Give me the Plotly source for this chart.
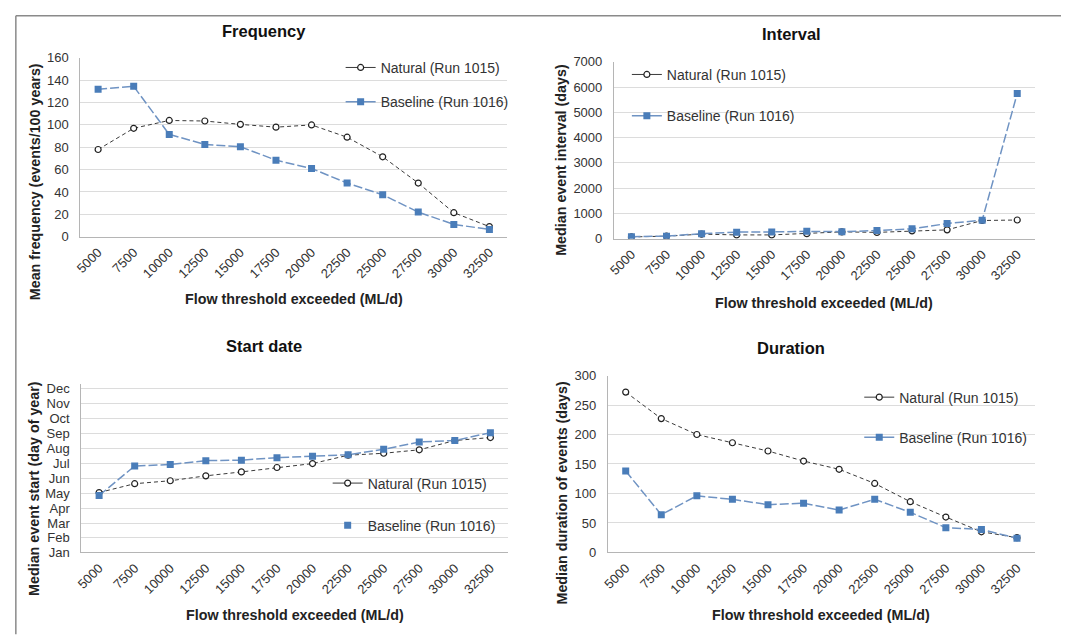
import plotly.graph_objects as go

# canvas size; measured placement of the canvas in the photographed page
W, H = 1053, 628
SX, BX = 0.996, 13.5
SY, BY = 0.977, 14.1

thresholds = ["5000", "7500", "10000", "12500", "15000", "17500",
              "20000", "22500", "25000", "27500", "30000", "32500"]

freq_natural = [78, 97, 104, 103.5, 100.5, 98, 100, 89, 71.5, 48, 21.5, 9]
freq_baseline = [132, 134.5, 91.5, 82.5, 80.5, 68.5, 61, 48, 37.5, 22, 11, 6.5]

int_natural = [70, 100, 180, 150, 150, 200, 270, 250, 310, 350, 720, 740]
int_baseline = [80, 100, 200, 260, 270, 290, 280, 320, 390, 600, 730, 5750]

start_natural = [123, 141, 147, 157, 165, 174, 182, 199, 203, 210, 229, 235]
start_baseline = [117, 177, 180, 188, 189, 194, 197, 200, 211, 226, 229, 245]

dur_natural = [272, 227, 200, 186, 172, 155, 141, 117, 86, 60, 35, 25]
dur_baseline = [138, 64, 96, 90, 81, 83.5, 72, 90, 68, 42, 39, 24]

month_days = [1, 32, 60, 91, 121, 152, 182, 213, 244, 274, 305, 335]
month_labels = ["Jan", "Feb", "Mar", "Apr", "May", "Jun",
                "Jul", "Aug", "Sep", "Oct", "Nov", "Dec"]

name_nat = "Natural (Run 1015)"
name_base = "Baseline (Run 1016)"

FONT = "Liberation Sans, Arial, sans-serif"
NAT_COLOR = "#3a3a3a"
BASE_LINE = "#6f93c3"
BASE_MARK = "#4a7db9"


def fx(px):
    return ((px - BX) / SX) / W


def fy(px):
    return 1 - ((px - BY) / SY) / H


panels = [
    dict(x=(79, 507), y=(57, 236)),
    dict(x=(614, 1036), y=(61, 238)),
    dict(x=(80, 508), y=(383, 552)),
    dict(x=(608, 1036), y=(375, 552)),
]

series = [
    (freq_natural, freq_baseline),
    (int_natural, int_baseline),
    (start_natural, start_baseline),
    (dur_natural, dur_baseline),
]

fig = go.Figure()

legend_names = ["legend", "legend2", "legend3", "legend4"]

for i, (nat, base) in enumerate(series):
    xa = "x" if i == 0 else f"x{i+1}"
    ya = "y" if i == 0 else f"y{i+1}"
    fig.add_trace(go.Scatter(
        x=thresholds, y=nat, xaxis=xa, yaxis=ya, mode="lines+markers",
        line=dict(color=NAT_COLOR, width=1, dash="4px,3px"),
        marker=dict(symbol="circle", size=6, color="white",
                    line=dict(color="#222222", width=1.2)),
        showlegend=False, name=name_nat))
    fig.add_trace(go.Scatter(
        x=thresholds, y=base, xaxis=xa, yaxis=ya, mode="lines+markers",
        line=dict(color=BASE_LINE, width=1.5, dash="9px,3px"),
        marker=dict(symbol="square", size=7, color=BASE_MARK,
                    line=dict(color=BASE_MARK, width=0)),
        showlegend=False, name=name_base))
    # legend entries
    fig.add_trace(go.Scatter(
        x=[None], y=[None], xaxis=xa, yaxis=ya, mode="lines+markers",
        line=dict(color=NAT_COLOR, width=1),
        marker=dict(symbol="circle", size=6, color="white",
                    line=dict(color="#222222", width=1.2)),
        name=name_nat, legend=legend_names[i], legendgroup=f"n{i}"))
    fig.add_trace(go.Scatter(
        x=[None], y=[None], xaxis=xa, yaxis=ya,
        mode="markers" if i == 2 else "lines+markers",
        line=dict(color=BASE_LINE, width=1.5),
        marker=dict(symbol="square", size=7, color=BASE_MARK),
        name=name_base, legend=legend_names[i], legendgroup=f"b{i}"))

y_specs = [
    dict(range=[0, 160], dtick=20, tick0=0),
    dict(range=[0, 7000], dtick=1000, tick0=0),
    dict(range=[1, 345], tickmode="array", tickvals=month_days, ticktext=month_labels),
    dict(range=[0, 300], dtick=50, tick0=0),
]

layout = dict(
    width=W, height=H,
    margin=dict(l=0, r=0, t=0, b=0),
    paper_bgcolor="white", plot_bgcolor="white",
    font=dict(family=FONT, color="#333333"),
)

for i, p in enumerate(panels):
    xk = "xaxis" if i == 0 else f"xaxis{i+1}"
    yk = "yaxis" if i == 0 else f"yaxis{i+1}"
    ya = "y" if i == 0 else f"y{i+1}"
    xa = "x" if i == 0 else f"x{i+1}"
    layout[xk] = dict(
        domain=[fx(p["x"][0]), fx(p["x"][1])], anchor=ya,
        type="category", range=[-0.5, 11.5],
        tickangle=-45, tickfont=dict(size=13, color="#333333"),
        showline=True, linecolor="#b5b5b5", linewidth=1,
        showgrid=False, ticks="", ticklabelstandoff=2,
    )
    ys = y_specs[i]
    layout[yk] = dict(
        domain=[fy(p["y"][1]), fy(p["y"][0])], anchor=xa,
        tickfont=dict(size=13, color="#333333"),
        showline=True, linecolor="#b5b5b5", linewidth=1,
        showgrid=True, gridcolor="#dcdcdc", gridwidth=1,
        zeroline=False, ticks="", ticklabelstandoff=8,
        **ys,
    )

titles = [("Frequency", 263, 30), ("Interval", 792, 33),
          ("Start date", 263, 345), ("Duration", 792, 347)]
xtitles = [(293, 298), (825, 302), (294, 615), (822, 615)]
ytitles = [("Mean frequency (events/100 years)", 33, 181),
           ("Median event interval (days)", 561, 159),
           ("Median event start (day of year)", 33, 488),
           ("Median duration of events (days)", 562, 493)]

ann = []
for t, x, y in titles:
    ann.append(dict(text=f"<b>{t}</b>", x=fx(x), y=fy(y), xref="paper", yref="paper",
                    showarrow=False, xanchor="center", yanchor="middle",
                    font=dict(size=16.5, color="#111111", family=FONT)))
for x, y in xtitles:
    ann.append(dict(text="<b>Flow threshold exceeded (ML/d)</b>", x=fx(x), y=fy(y),
                    xref="paper", yref="paper", showarrow=False,
                    xanchor="center", yanchor="middle",
                    font=dict(size=14.3, color="#222222", family=FONT)))
for t, x, y in ytitles:
    ann.append(dict(text=f"<b>{t}</b>", x=fx(x), y=fy(y), xref="paper", yref="paper",
                    showarrow=False, xanchor="center", yanchor="middle", textangle=-90,
                    font=dict(size=14.3, color="#222222", family=FONT)))
layout["annotations"] = ann

# legends: (line start x, first item y, gap)
leg_pos = [(345, 67, 13), (632, 74, 20), (332, 483, 21), (865, 397, 19)]
for i, (lx, ly, gap) in enumerate(leg_pos):
    layout[legend_names[i]] = dict(
        x=fx(lx - 5), y=fy(ly - 16), xref="paper", yref="paper",
        xanchor="left", yanchor="top",
        bgcolor="rgba(0,0,0,0)", borderwidth=0,
        font=dict(size=14, color="#333333", family=FONT),
        traceorder="grouped", tracegroupgap=gap,
        itemwidth=30,
    )

layout["shapes"] = [
    dict(type="line", xref="paper", yref="paper", x0=0.0008, x1=1.01, y0=0.9988, y1=0.9988,
         line=dict(color="#8a8a8a", width=1.5)),
    dict(type="line", xref="paper", yref="paper", x0=0.0008, x1=0.0008, y0=0.9988, y1=-0.01,
         line=dict(color="#8a8a8a", width=1.5)),
]

fig.update_layout(**layout)
fig.write_html("out.html")
